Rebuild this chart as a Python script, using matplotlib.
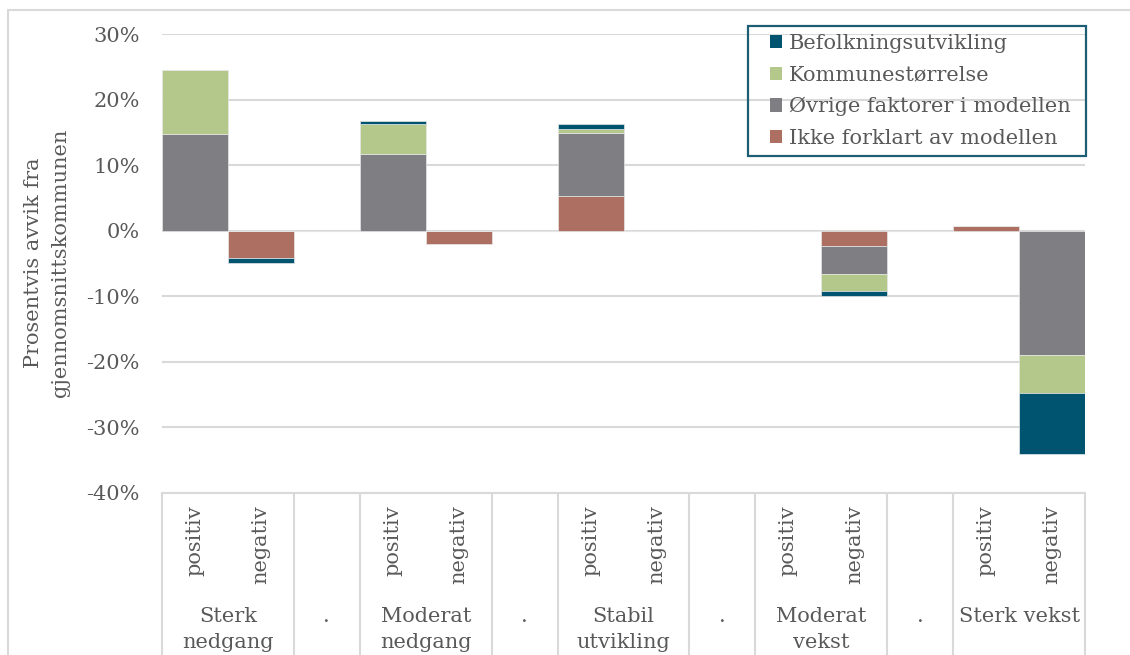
import numpy as np
import matplotlib
matplotlib.use("Agg")
import matplotlib.pyplot as plt
from matplotlib.patches import Patch, Rectangle
from matplotlib.transforms import blended_transform_factory

# ---- data ----
nan = np.nan
groups = ["Sterk\nnedgang", ".", "Moderat\nnedgang", ".", "Stabil\nutvikling", ".",
          "Moderat\nvekst", ".", "Sterk vekst"]
group_sizes = [2, 1, 2, 1, 2, 1, 2, 1, 2]
subcats = ["positiv", "negativ", "", "positiv", "negativ", "", "positiv", "negativ", "",
           "positiv", "negativ", "", "positiv", "negativ"]
series_names = ["Ikke forklart av modellen", "Øvrige faktorer i modellen",
                "Kommunestørrelse", "Befolkningsutvikling"]
ikke_forklart = [0, -4.1, nan, 0, -2.1, nan, 5.3, 0, nan, 0, -2.3, nan, 0.7, 0]
ovrige = [14.8, 0, nan, 11.75, 0, nan, 9.6, 0, nan, 0, -4.35, nan, 0, -19.0]
kommunestorrelse = [9.7, 0, nan, 4.5, 0, nan, 0.6, 0, nan, 0, -2.5, nan, 0, -5.8]
befolkning = [0, -0.75, nan, 0.5, 0, nan, 0.7, 0, nan, 0, -0.8, nan, 0, -9.3]
yticks = [30, 20, 10, 0, -10, -20, -30, -40]

colors = ["#AE6F63", "#7F7E83", "#B3C88A", "#00546F"]
series = [ikke_forklart, ovrige, kommunestorrelse, befolkning]

W, H = 1130, 655
fig = plt.figure(figsize=(W / 100, H / 100), dpi=100)
FONT = "DejaVu Serif"
TXT = "#595959"
GRID = "#D9D9D9"
FS = 15

# outer chart border (cropped on right and bottom)
fig.patches.append(Rectangle((7.5 / W, -0.1), 1.2, 1 - 10 / H + 0.1, transform=fig.transFigure,
                             fill=False, edgecolor=GRID, linewidth=1.5))

left, right, top, bottom = 162, 1085, 34, 493
ax = fig.add_axes([left / W, 1 - bottom / H, (right - left) / W, (bottom - top) / H])

n = len(subcats)
x = np.arange(n)
pos_bottom = np.zeros(n)
neg_bottom = np.zeros(n)
for vals, col, name in zip(series, colors, series_names):
    v = np.nan_to_num(np.array(vals, dtype=float))
    b = np.where(v >= 0, pos_bottom, neg_bottom)
    ax.bar(x, v, bottom=b, width=1.0, color=col, edgecolor="#E6E6E6", linewidth=0.5, zorder=3)
    pos_bottom += np.where(v > 0, v, 0)
    neg_bottom += np.where(v < 0, v, 0)

ax.set_xlim(-0.5, n - 0.5)
ax.set_ylim(-40, 30)
ax.set_yticks(yticks)
ax.set_yticklabels([f"{t}%" for t in yticks], fontfamily=FONT, fontsize=FS, color=TXT)
ax.tick_params(axis="y", length=0, pad=16)
ax.set_xticks([])
ax.yaxis.grid(True, color=GRID, linewidth=1.5, zorder=0)
ax.set_axisbelow(True)
for s in ["left", "right", "top"]:
    ax.spines[s].set_visible(False)
ax.spines["bottom"].set_color(GRID)
ax.spines["bottom"].set_linewidth(1.5)
ax.spines["bottom"].set_position(("data", -40))

# category table below
tr = blended_transform_factory(ax.transData, fig.transFigure)
edges = [-0.5]
for g in group_sizes:
    edges.append(edges[-1] + g)
for e in edges:
    ax.plot([e, e], [1 - 494 / H, -0.05], transform=tr, color=GRID, linewidth=1.5, clip_on=False)

for i, s in enumerate(subcats):
    if s:
        ax.text(i, 1 - 505 / H, s, transform=tr, rotation=90, ha="center", va="top",
                fontfamily=FONT, fontsize=FS, color=TXT)

for k, g in enumerate(groups):
    c = (edges[k] + edges[k + 1]) / 2
    ax.text(c, 1 - 607 / H, g, transform=tr, ha="center", va="top", multialignment="center",
            fontfamily=FONT, fontsize=FS, color=TXT, linespacing=1.45)

fig.text(47 / W, 1 - 263 / H, "Prosentvis avvik fra\ngjennomsnittskommunen", rotation=90,
         ha="center", va="center", multialignment="center", fontfamily=FONT, fontsize=FS,
         color=TXT, linespacing=1.5)

# legend with manual frame
fig.patches.append(Rectangle((748 / W, 1 - 156 / H), (1086 - 748) / W, 130 / H,
                             transform=fig.transFigure, fill=False, edgecolor="#1D5E74",
                             linewidth=1.6, zorder=10))
handles = [Patch(facecolor=c, edgecolor="none") for c in colors][::-1]
labels = series_names[::-1]
leg = ax.legend(handles, labels, loc="center left", bbox_to_anchor=(770 / W, 1 - 91 / H),
                bbox_transform=fig.transFigure, borderaxespad=0, frameon=False,
                prop={"family": FONT, "size": FS}, handlelength=0.6, handleheight=0.6,
                handletextpad=0.3, labelspacing=0.6, borderpad=0.0)
for t in leg.get_texts():
    t.set_color(TXT)

fig.savefig("out.png", dpi=100)
